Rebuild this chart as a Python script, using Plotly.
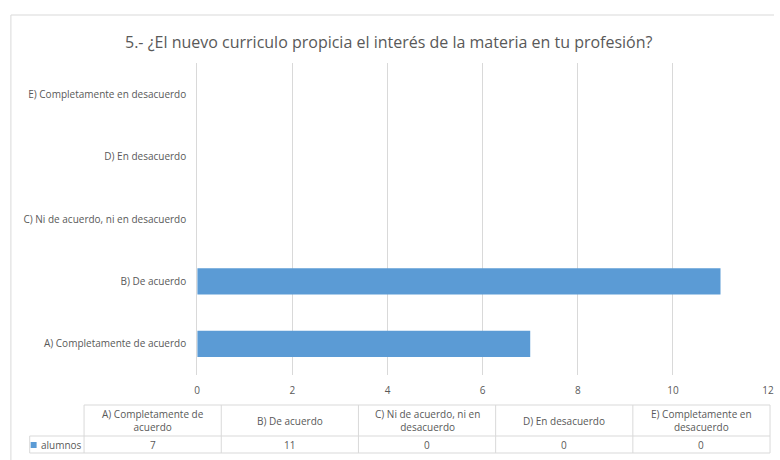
import textwrap

import plotly.graph_objects as go

# data
categories = [
    "A) Completamente de acuerdo",
    "B) De acuerdo",
    "C) Ni de acuerdo, ni en desacuerdo",
    "D) En desacuerdo",
    "E) Completamente en desacuerdo",
]
alumnos = [7, 11, 0, 0, 0]
series_name = "alumnos"
x_ticks = [0, 2, 4, 6, 8, 10, 12]
title = "5.- ¿El nuevo curriculo propicia el interés de la materia en tu profesión?"

W, H = 780, 460
BAR_COLOR = "#5B9BD5"
GRID = "#D9D9D9"
TEXT = "#595959"
FONT = "Open Sans, sans-serif"


def px(x):
    return x / W


def py(y):
    return 1 - y / H


def label(x, y, text, size=10, xanchor="center"):
    return dict(xref="paper", yref="paper", x=px(x), y=py(y), text=text, showarrow=False,
                xanchor=xanchor, yanchor="middle", align="center",
                font={"size": size, "color": TEXT, "family": FONT})


def line(x0, y0, x1, y1):
    return dict(type="line", xref="paper", yref="paper", x0=px(x0), x1=px(x1),
                y0=py(y0), y1=py(y1), line={"color": GRID, "width": 1})


fig = go.Figure()
fig.add_trace(
    go.Bar(
        x=alumnos,
        y=categories,
        orientation="h",
        name=series_name,
        marker={"color": BAR_COLOR, "line": {"width": 0}},
        width=0.42,
    )
)

shapes = []
annotations = []

# chart border (right and bottom edges fall outside the picture)
shapes.append(line(8, 15, 780, 15))
shapes.append(line(8, 15, 8, 460))

# data table below the plot
col_left, col_w = 82, 138.8
row_top, row_mid, row_bot = 405, 436, 453
legend_left = 27
n = len(categories)
right = col_left + col_w * n

shapes.append(line(col_left, row_top, right, row_top))
shapes.append(line(legend_left, row_mid, right, row_mid))
shapes.append(line(legend_left, row_bot, right, row_bot))
shapes.append(line(legend_left, row_mid, legend_left, row_bot))
for i in range(n + 1):
    xx = col_left + col_w * i
    shapes.append(line(xx, row_top, xx, row_bot))

for i, (cat, val) in enumerate(zip(categories, alumnos)):
    cx = col_left + col_w * (i + 0.5)
    annotations.append(label(cx, (row_top + row_mid) / 2, "<br>".join(textwrap.wrap(cat, 23))))
    annotations.append(label(cx, (row_mid + row_bot) / 2, str(val)))

# legend key in table
shapes.append(dict(type="rect", xref="paper", yref="paper", x0=px(28), x1=px(34),
                   y0=py(448), y1=py(442), fillcolor=BAR_COLOR, line={"width": 0}))
annotations.append(label(36, (row_mid + row_bot) / 2, series_name, xanchor="left"))

annotations.append(label(W / 2, 42, title, size=16))

fig.update_layout(
    width=W,
    height=H,
    margin={"l": 0, "r": 0, "t": 0, "b": 0},
    paper_bgcolor="#FFFFFF",
    plot_bgcolor="#FFFFFF",
    font={"family": FONT, "color": TEXT, "size": 10},
    showlegend=False,
    shapes=shapes,
    annotations=annotations,
    xaxis={
        "domain": [px(196.5), px(774)],
        "range": [0, 12],
        "tickvals": x_ticks,
        "showgrid": True,
        "gridcolor": GRID,
        "zeroline": False,
        "ticks": "outside",
        "ticklen": 6,
        "tickcolor": "rgba(0,0,0,0)",
        "tickfont": {"size": 10, "color": TEXT},
        "fixedrange": True,
    },
    yaxis={
        "domain": [py(375), py(63)],
        "categoryorder": "array",
        "categoryarray": categories,
        "showline": True,
        "linecolor": GRID,
        "ticks": "outside",
        "ticklen": 8,
        "tickcolor": "rgba(0,0,0,0)",
        "tickfont": {"size": 10, "color": TEXT},
        "fixedrange": True,
    },
)

fig.write_html(
    "out.html",
    config={"displayModeBar": False},
    post_script="document.body.style.margin='0';document.body.style.overflow='hidden';",
)
